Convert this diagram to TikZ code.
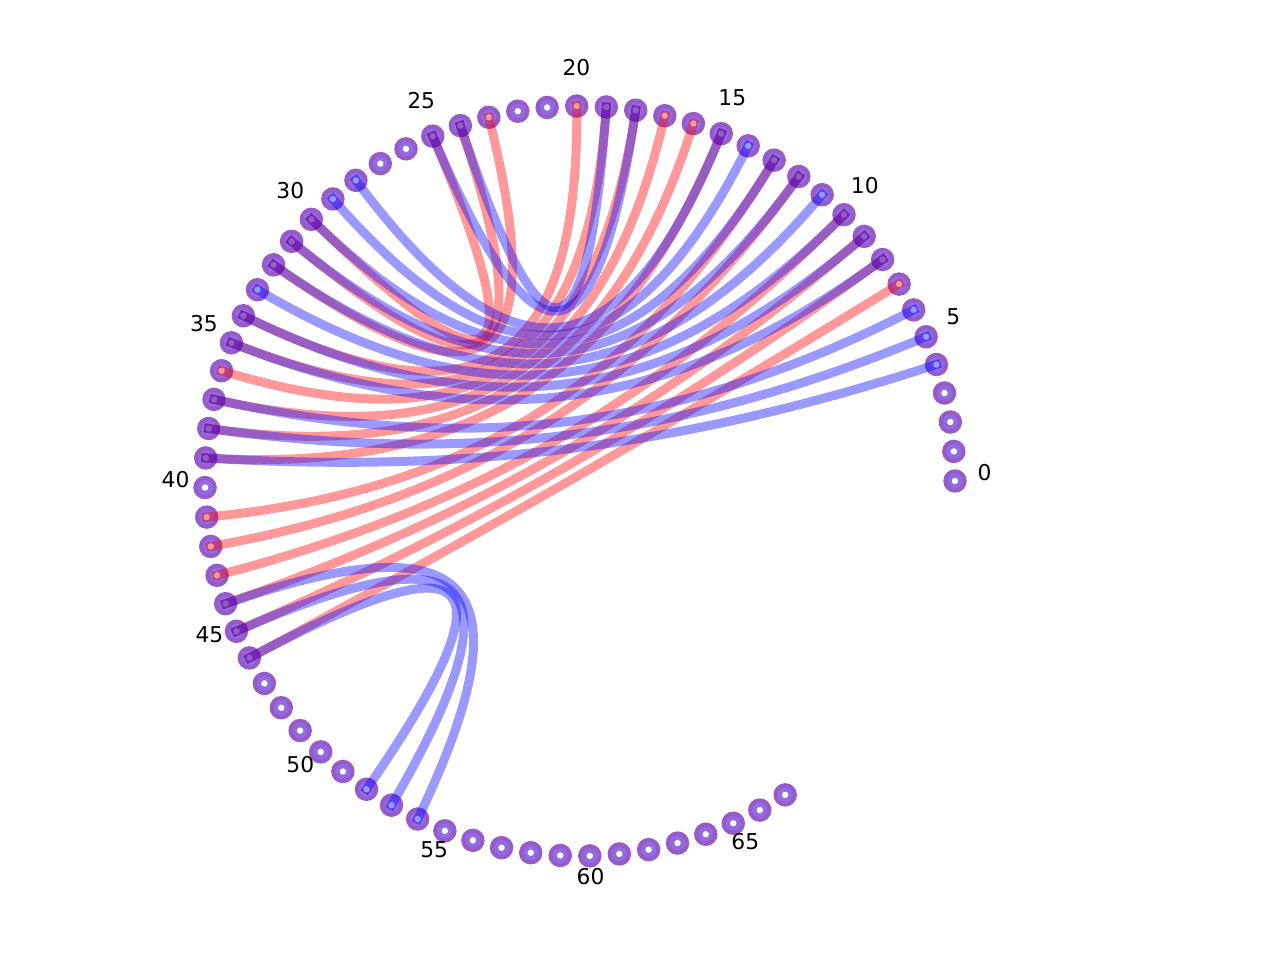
\documentclass[tikz,border=0pt]{standalone}
\usepackage{fontspec}
\setmainfont{DejaVu Sans}

\definecolor{vout}{RGB}{152,90,200}
\definecolor{vin}{RGB}{145,108,225}

\begin{document}
\begin{tikzpicture}[x=0.02cm, y=0.02cm,
  vtx/.style={circle, inner sep=0pt, minimum size=0.47cm, fill=vout},
  redge/.style={draw=red, draw opacity=0.4, line width=0.18cm, line cap=rect},
  bedge/.style={draw=blue, draw opacity=0.4, line width=0.18cm, line cap=rect},
  lbl/.style={font=\fontsize{12.4}{14}\selectfont, yshift=0.17cm}]
\useasboundingbox (-580,-479) rectangle (700,481);

% Bases on the arc, 4.525 deg apart
\foreach \k in {0,...,67}{
  \pgfmathsetmacro{\a}{4.525*\k}
  \node[vtx] (n\k) at (\a:375) {};
  \fill[vin] (n\k.center) circle (7.5);
  \fill[white] (n\k.center) circle (3.2);
  \coordinate (m\k) at (\a:112.5);
}

% Index labels
\foreach \k in {0,5,...,65}{
  \node[lbl] (l\k) at ({4.525*\k}:404.5) {\k};
}

% Red pairs (outer stem)
\draw[redge] (n7.center) .. controls (m7) and (m46) .. (n46.center);
\draw[redge] (n8.center) .. controls (m8) and (m45) .. (n45.center);
\draw[redge] (n9.center) .. controls (m9) and (m44) .. (n44.center);
\draw[redge] (n10.center) .. controls (m10) and (m43) .. (n43.center);
\draw[redge] (n12.center) .. controls (m12) and (m42) .. (n42.center);
\draw[redge] (n13.center) .. controls (m13) and (m41) .. (n41.center);
\draw[redge] (n15.center) .. controls (m15) and (m39) .. (n39.center);
\draw[redge] (n16.center) .. controls (m16) and (m38) .. (n38.center);
\draw[redge] (n17.center) .. controls (m17) and (m37) .. (n37.center);
\draw[redge] (n18.center) .. controls (m18) and (m36) .. (n36.center);
\draw[redge] (n19.center) .. controls (m19) and (m35) .. (n35.center);
\draw[redge] (n20.center) .. controls (m20) and (m34) .. (n34.center);
% Red pairs (hairpin)
\draw[redge] (n23.center) .. controls (m23) and (m32) .. (n32.center);
\draw[redge] (n24.center) .. controls (m24) and (m31) .. (n31.center);
\draw[redge] (n25.center) .. controls (m25) and (m30) .. (n30.center);

% Blue pairs (long stem)
\draw[bedge] (n4.center) .. controls (m4) and (m39) .. (n39.center);
\draw[bedge] (n5.center) .. controls (m5) and (m38) .. (n38.center);
\draw[bedge] (n6.center) .. controls (m6) and (m37) .. (n37.center);
\draw[bedge] (n8.center) .. controls (m8) and (m35) .. (n35.center);
\draw[bedge] (n9.center) .. controls (m9) and (m34) .. (n34.center);
\draw[bedge] (n10.center) .. controls (m10) and (m33) .. (n33.center);
\draw[bedge] (n11.center) .. controls (m11) and (m32) .. (n32.center);
\draw[bedge] (n12.center) .. controls (m12) and (m31) .. (n31.center);
\draw[bedge] (n13.center) .. controls (m13) and (m30) .. (n30.center);
\draw[bedge] (n14.center) .. controls (m14) and (m29) .. (n29.center);
\draw[bedge] (n15.center) .. controls (m15) and (m28) .. (n28.center);
\draw[bedge] (n18.center) .. controls (m18) and (m25) .. (n25.center);
\draw[bedge] (n19.center) .. controls (m19) and (m24) .. (n24.center);
% Blue pairs (lower hairpin)
\draw[bedge] (n44.center) .. controls (m44) and (m54) .. (n54.center);
\draw[bedge] (n45.center) .. controls (m45) and (m53) .. (n53.center);
\draw[bedge] (n46.center) .. controls (m46) and (m52) .. (n52.center);

\end{tikzpicture}
\end{document}
